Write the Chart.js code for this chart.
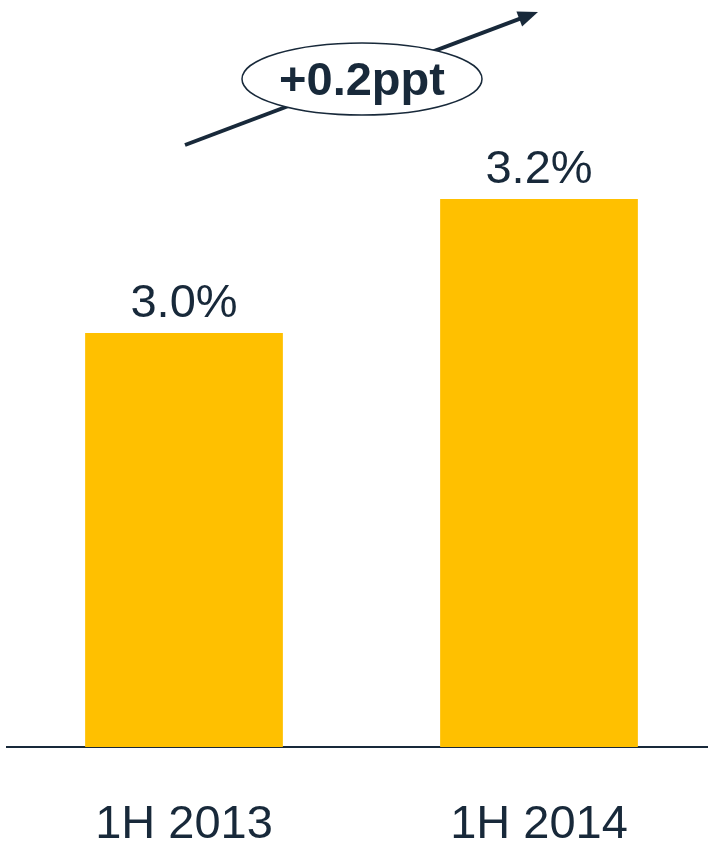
<!DOCTYPE html>
<html>
<head>
<meta charset="utf-8">
<script src="https://cdn.jsdelivr.net/npm/chart.js@4"></script>
<style>
  html, body { margin: 0; padding: 0; background: #fff; overflow: hidden; }
  #wrap { width: 708px; height: 843px; overflow: hidden; }
</style>
</head>
<body>
<div id="wrap"><canvas id="myChart" width="720" height="843"></canvas></div>
<script>
// data
const periods = ['1H 2013', '1H 2014'];
const shares = [3.0, 3.2];

const ink = '#18293a';
const barColor = '#ffc000';

// value labels above bars + the "+0.2ppt" arrow callout
const overlay = {
    id: 'overlay',
    afterDatasetsDraw(chart) {
        const ctx = chart.ctx;
        const meta = chart.getDatasetMeta(0);
        ctx.save();
        ctx.fillStyle = ink;
        ctx.font = '47px "Liberation Sans", Arial, sans-serif';
        ctx.textAlign = 'center';
        ctx.textBaseline = 'alphabetic';
        meta.data.forEach(function(bar, i) {
            ctx.fillText(shares[i].toFixed(1) + '%', bar.x, bar.y - 16);
        });

        // arrow
        const x0 = 185, y0 = 145, x1 = 538, y1 = 12;
        const ang = Math.atan2(y1 - y0, x1 - x0);
        ctx.strokeStyle = ink;
        ctx.lineWidth = 4;
        ctx.beginPath();
        ctx.moveTo(x0, y0);
        ctx.lineTo(x1 - 12 * Math.cos(ang), y1 - 12 * Math.sin(ang));
        ctx.stroke();
        ctx.beginPath();
        ctx.moveTo(x1, y1);
        ctx.lineTo(x1 - 20 * Math.cos(ang) + 8 * Math.sin(ang), y1 - 20 * Math.sin(ang) - 8 * Math.cos(ang));
        ctx.lineTo(x1 - 20 * Math.cos(ang) - 8 * Math.sin(ang), y1 - 20 * Math.sin(ang) + 8 * Math.cos(ang));
        ctx.closePath();
        ctx.fill();

        // ellipse badge
        ctx.beginPath();
        ctx.ellipse(362, 79, 120, 36, 0, 0, Math.PI * 2);
        ctx.fillStyle = '#fff';
        ctx.fill();
        ctx.lineWidth = 1.5;
        ctx.stroke();

        const diff = shares[1] - shares[0];
        ctx.fillStyle = ink;
        ctx.font = 'bold 47px "Liberation Sans", Arial, sans-serif';
        ctx.fillText((diff >= 0 ? '+' : '') + diff.toFixed(1) + 'ppt', 362, 95);
        ctx.restore();
    }
};

const config = {
    type: 'bar',
    data: {
        labels: periods,
        datasets: [{
            data: shares,
            backgroundColor: barColor,
            barPercentage: 0.557,
            categoryPercentage: 1
        }]
    },
    options: {
        responsive: false,
        animation: false,
        layout: { padding: { left: 6.5, right: 3.5, top: 0, bottom: 0 } },
        plugins: { legend: { display: false }, tooltip: { enabled: false } },
        scales: {
            x: {
                grid: { display: false, drawTicks: false },
                border: { display: true, color: ink, width: 2 },
                ticks: {
                    color: ink,
                    padding: 50,
                    font: { family: '"Liberation Sans", Arial, sans-serif', size: 47 }
                },
                afterFit: function(scale) { scale.height = 96; }
            },
            y: {
                display: false,
                min: 2.382,
                max: 3.497
            }
        }
    },
    plugins: [overlay]
};

new Chart(document.getElementById('myChart').getContext('2d'), config);
</script>
</body>
</html>
